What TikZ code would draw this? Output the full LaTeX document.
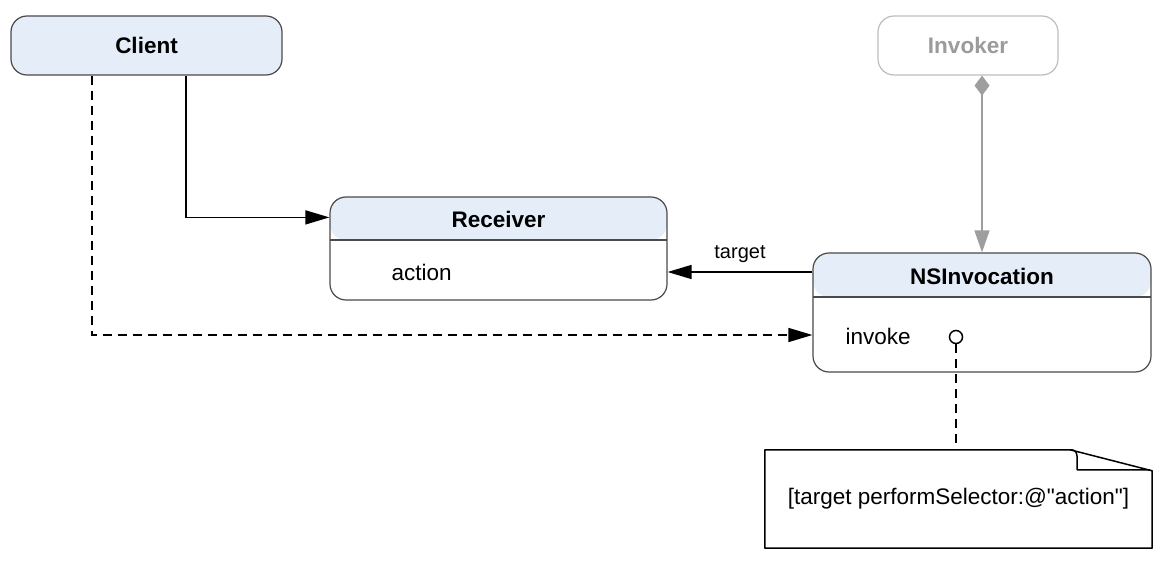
\documentclass[tikz,border=0pt]{standalone}
\usepackage{fontspec}
\setmainfont{Liberation Sans}
\usetikzlibrary{arrows.meta,calc}
\definecolor{hdr}{HTML}{E5EDF9}
\definecolor{bord}{HTML}{4A4A4A}
\definecolor{ghost}{HTML}{BDBDBD}
\definecolor{ghosttxt}{HTML}{9B9B9B}
\definecolor{garrow}{HTML}{9E9E9E}
\tikzset{
  big/.style={font=\fontsize{22.5}{27}\selectfont},
  classbox/.style={draw=bord, line width=1.2pt, rounded corners=16pt, rectangle, inner sep=0pt},
  titletxt/.style={big, font=\fontsize{22.5}{27}\selectfont\bfseries},
  conn/.style={line width=1.5pt, draw=black},
  tip/.style={-{Triangle[length=24pt,width=14pt]}},
}
\begin{document}
\begin{tikzpicture}[x=1pt,y=-1pt]
\useasboundingbox (0,0) rectangle (1170,572);
% Client
\node[classbox, fill=hdr, minimum width=271pt, minimum height=59pt] (client) at (146.5,45.5) {};
\node[titletxt] (clientt) at (client.center) {Client};
% Invoker
\node[classbox, draw=ghost, fill=white, minimum width=180pt, minimum height=59pt] (invoker) at (968,45.5) {};
\node[titletxt, text=ghosttxt] (invokert) at (invoker.center) {Invoker};
% Receiver
\node[classbox, minimum width=337pt, minimum height=103pt,
  path picture={\fill[hdr] (path picture bounding box.north west) rectangle ([yshift=-43pt]path picture bounding box.north east);
  \draw[bord, line width=1.2pt] ([yshift=-43pt]path picture bounding box.north west) -- ([yshift=-43pt]path picture bounding box.north east);}] (recv) at (498.5,248.5) {};
\node[titletxt] (recvt) at (498.5,219) {Receiver};
\node[big, anchor=west] (action) at (388,272) {action};
% NSInvocation
\node[classbox, minimum width=338pt, minimum height=119pt,
  path picture={\fill[hdr] (path picture bounding box.north west) rectangle ([yshift=-44pt]path picture bounding box.north east);
  \draw[bord, line width=1.2pt] ([yshift=-44pt]path picture bounding box.north west) -- ([yshift=-44pt]path picture bounding box.north east);}] (nsinv) at (982,312.5) {};
\node[titletxt] (nsinvt) at (982,276) {NSInvocation};
\node[big, anchor=west] (invoke) at (842,336) {invoke};
\node[circle, draw=black, line width=1.5pt, minimum size=13pt, inner sep=0pt] (lolli) at (956,337) {};
% Note
\node[big, minimum width=387pt, minimum height=98pt, inner sep=0pt] (note) at (958.5,499) {[target performSelector:@\textquotedbl action\textquotedbl]};
\draw[line width=1.5pt, line join=round]
  (note.south west) -- (note.north west) -- ($(note.north east)+(-82,0)$)
  -- ($(note.north east)+(0,21)$) -- (note.south east) -- cycle;
\draw[line width=1.5pt, line join=round]
  ($(note.north east)+(-82,0)$) .. controls ($(note.north east)+(-75,0)$) and ($(note.north east)+(-75,4)$) .. ($(note.north east)+(-75,12)$)
  -- ($(note.north east)+(-75,20)$) -- ($(note.north east)+(-2,20)$);
% Connectors
\draw[conn, tip] (client.south -| 186,0) |- ($(recv.north west)+(0,21)$);
\draw[conn, tip, dash pattern=on 9pt off 6pt] (client.south -| 92,0) |- (nsinv.west |- 0,335);
\draw[conn, tip] (nsinv.west |- 0,272) -- node[pos=0.5, above=5pt, font=\fontsize{20}{24}\selectfont] (tlabel) {target} (recv.east |- 0,272);
\draw[line width=1.5pt, draw=garrow, {Diamond[length=20pt,width=15pt,fill=garrow]}-{Triangle[length=22pt,width=15pt,fill=garrow]}]
  (invoker.south -| nsinv.north) -- (nsinv.north);
\draw[line width=1.5pt, dash pattern=on 9pt off 6pt] (lolli.south) -- (note.north -| lolli.south);
\end{tikzpicture}
\end{document}
